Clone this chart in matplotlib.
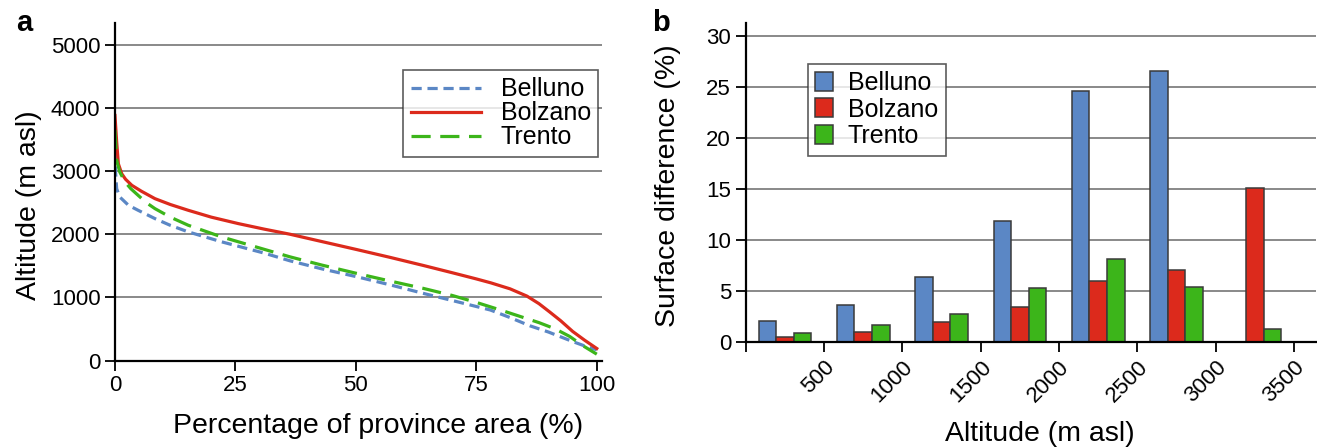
import numpy as np
import matplotlib
matplotlib.use("Agg")
from matplotlib import pyplot as plt

plt.rcParams['font.family'] = ['Liberation Sans', 'DejaVu Sans']

# panel a: hypsometric curves (percentage of area vs altitude)
bolzano_pct = [0, 0.35, 0.7, 1.4, 2.2, 3.5, 5.5, 8.3, 11.5, 15.2, 20, 25.6, 31, 36.3, 42, 50, 57,
               64, 70, 75, 78, 82, 85.5, 88, 90.2, 92.5, 95, 97.5, 100]
bolzano_alt = [3880, 3460, 3116, 2958, 2870, 2774, 2680, 2563, 2470, 2379, 2270, 2168, 2080, 2000,
               1900, 1760, 1635, 1505, 1390, 1292, 1230, 1135, 1020, 900, 770, 630, 460, 320, 190]

trento_pct = [0, 0.35, 1.0, 2.1, 3.3, 4.8, 6.5, 8.3, 11.5, 15.2, 22.1, 31, 36.3, 43, 50.2, 57, 64,
              70, 75, 80, 84, 88, 91.4, 94.4, 97, 100]
trento_alt = [3650, 3168, 2984, 2826, 2720, 2616, 2500, 2405, 2270, 2142, 1958, 1760, 1642, 1510,
              1379, 1260, 1142, 1030, 920, 800, 700, 600, 500, 380, 240, 100]

belluno_pct = [0, 0.1, 0.35, 1.0, 2.8, 4.8, 8.3, 11.5, 15.2, 22.1, 31, 36.3, 43, 50.2, 57, 64, 70,
               77.9, 82, 86.1, 90, 95, 97.5, 100]
belluno_alt = [3326, 3000, 2721, 2589, 2458, 2379, 2247, 2140, 2037, 1880, 1700, 1579, 1450, 1326,
               1200, 1063, 950, 800, 680, 550, 450, 300, 230, 170]

# panel b: surface difference per altitude band
band_centers = [250, 750, 1250, 1750, 2250, 2750, 3250]
belluno_diff = [2.0, 3.6, 6.3, 11.8, 24.6, 26.5, 0.0]
bolzano_diff = [0.4, 0.9, 1.9, 3.4, 5.9, 7.0, 15.1]
trento_diff = [0.8, 1.6, 2.7, 5.2, 8.1, 5.3, 1.2]
alt_ticks = [0, 500, 1000, 1500, 2000, 2500, 3000, 3500]
alt_ticklabels = ['', '500', '1000', '1500', '2000', '2500', '3000', '3500']

blue = '#5b87c5'
red = '#dc2a1c'
green = '#3cb51a'
grid_col = '#6a6a6a'

tick_fs = 16
label_fs = 20.5
leg_fs = 18

fig = plt.figure(figsize=(13.17, 4.48), dpi=100)

# ---------------- panel a
ax1 = fig.add_axes([0.0873, 0.1953, 0.3695, 0.7527])
ax1.plot(belluno_pct, belluno_alt, color=blue, lw=2.3, dashes=(3.2, 1.8), label='Belluno')
ax1.plot(bolzano_pct, bolzano_alt, color=red, lw=2.3, label='Bolzano')
ax1.plot(trento_pct, trento_alt, color=green, lw=2.3, dashes=(6, 3), label='Trento')
ax1.set_xlim(0, 101)
ax1.set_ylim(0, 5340)
ax1.set_xticks([0, 25, 50, 75, 100])
ax1.set_yticks([0, 1000, 2000, 3000, 4000, 5000])
for y in [1000, 2000, 3000, 4000, 5000]:
    ax1.axhline(y, color=grid_col, lw=1.1, zorder=0)
for s in ['top', 'right']:
    ax1.spines[s].set_visible(False)
for s in ['left', 'bottom']:
    ax1.spines[s].set_linewidth(1.6)
ax1.tick_params(labelsize=tick_fs, width=1.3, length=7, direction='out')
ax1.set_xlabel('Percentage of province area (%)', fontsize=label_fs)
ax1.xaxis.set_label_coords(0.54, -0.155)
ax1.set_ylabel('Altitude (m asl)', fontsize=label_fs)
ax1.yaxis.set_label_coords(-0.15, 0.46)
leg1 = ax1.legend(loc='upper left', bbox_to_anchor=(0.592, 0.862), fontsize=leg_fs, frameon=True,
                  fancybox=False, edgecolor='#333333', handlelength=2.8, borderpad=0.3,
                  labelspacing=0.0, handletextpad=0.8, borderaxespad=0)
leg1.get_frame().set_linewidth(1.2)
fig.text(0.012, 0.93, 'a', fontsize=21, fontweight='bold')

# ---------------- panel b
ax2 = fig.add_axes([0.5662, 0.2377, 0.433, 0.710])
bw = 112
x = np.array(band_centers)
ax2.bar(x - bw, belluno_diff, width=bw, color=blue, edgecolor='#3a3a3a', lw=1.1, label='Belluno', zorder=2)
ax2.bar(x, bolzano_diff, width=bw, color=red, edgecolor='#3a3a3a', lw=1.1, label='Bolzano', zorder=2)
ax2.bar(x + bw, trento_diff, width=bw, color=green, edgecolor='#3a3a3a', lw=1.1, label='Trento', zorder=2)
ax2.set_xlim(0, 3640)
ax2.set_ylim(0, 31.2)
ax2.set_yticks([0, 5, 10, 15, 20, 25, 30])
for y in [5, 10, 15, 20, 25, 30]:
    ax2.axhline(y, color=grid_col, lw=1.1, zorder=0)
ax2.set_xticks(alt_ticks)
ax2.set_xticklabels(alt_ticklabels, rotation=45, ha='right', va='top', rotation_mode='anchor')
for s in ['top', 'right']:
    ax2.spines[s].set_visible(False)
for s in ['left', 'bottom']:
    ax2.spines[s].set_linewidth(1.6)
ax2.spines['bottom'].set_zorder(3)
ax2.tick_params(labelsize=tick_fs, width=1.3, length=7, direction='out')
ax2.tick_params(axis='x', pad=4)
ax2.set_xlabel('Altitude (m asl)', fontsize=label_fs)
ax2.xaxis.set_label_coords(0.516, -0.25)
ax2.set_ylabel('Surface difference (%)', fontsize=label_fs)
ax2.yaxis.set_label_coords(-0.113, 0.49)
leg2 = ax2.legend(loc='upper left', bbox_to_anchor=(0.109, 0.874), fontsize=leg_fs, frameon=True,
                  fancybox=False, edgecolor='#333333', handlelength=0.7, handleheight=0.8,
                  borderpad=0.3, labelspacing=0.1, handletextpad=0.6, borderaxespad=0)
leg2.get_frame().set_linewidth(1.2)
fig.text(0.495, 0.93, 'b', fontsize=21, fontweight='bold')

fig.savefig('out.png', dpi=100)
